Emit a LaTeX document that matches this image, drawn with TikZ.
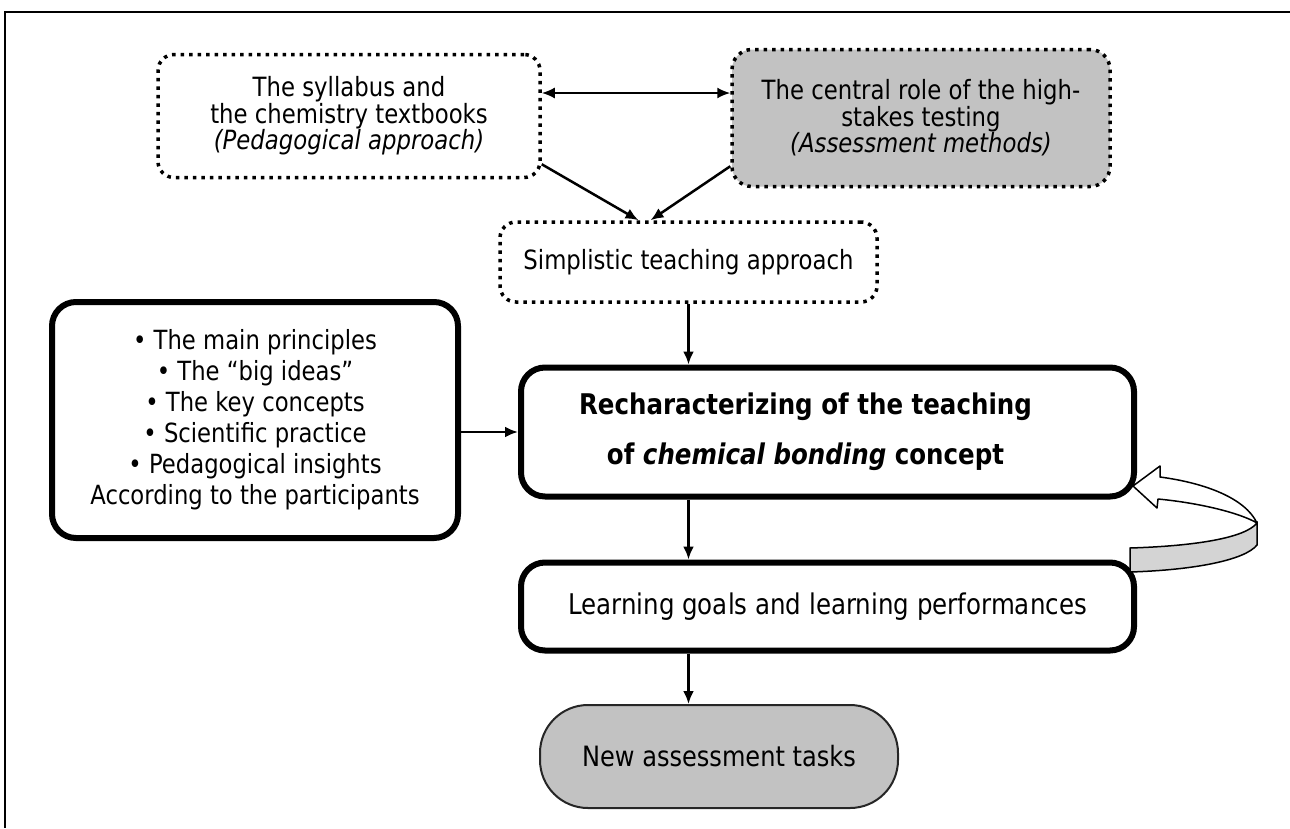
\documentclass[tikz,border=0pt]{standalone}
\usepackage{fontspec}
\setmainfont{DejaVu Sans}[FakeStretch=0.86]
\usetikzlibrary{arrows.meta,positioning,calc}
\definecolor{boxgray}{RGB}{194,194,194}
\definecolor{bandgray}{RGB}{212,212,212}
\tikzset{
    dotbox/.style = {rectangle,
                    rounded corners=16pt,
                    fill=white,
                    draw=black,
                    text=black,
                    line width=3.5pt,
                    dash pattern=on 3.5pt off 5pt,
                    inner sep=0pt,
                    align=center,
                    font=\fontsize{26.5}{24}\selectfont},
    thickbox/.style = {rectangle,
                    rounded corners=24pt,
                    fill=white,
                    draw=black,
                    text=black,
                    line width=6pt,
                    inner sep=0pt,
                    align=center,
                    font=\fontsize{26.4}{31}\selectfont},
    endbox/.style = {rectangle,
                    rounded corners=48pt,
                    fill=boxgray,
                    draw=black!85,
                    text=black,
                    line width=2pt,
                    inner sep=0pt,
                    font=\fontsize{28}{30}\selectfont},
    boldtext/.style = {align=center,
                    inner sep=0pt,
                    font=\bfseries\fontsize{28.5}{50}\selectfont},
    link/.style =   {line width=2.5pt, ->},
    >={Latex[length=13pt,width=11pt]},
    x=1pt, y=-1pt}
\begin{document}
\begin{tikzpicture}
    \useasboundingbox (0,0) rectangle (1290,828);
    % frame
    \draw[line width=2pt] (1290,12) -- (5,12) -- (5,828);
    % boxes
    \node[dotbox, minimum width=382, minimum height=123] (A) at (349,116)
        {The syllabus and\\the chemistry textbooks\\\textit{(Pedagogical approach)}};
    \node[dotbox, fill=boxgray, rounded corners=20pt, minimum width=378, minimum height=137] (B) at (921,118)
        {The central role of the high-\\stakes testing\\\textit{(Assessment methods)}};
    \node[dotbox, minimum width=377, minimum height=80] (C) at (688.5,262)
        {Simplistic teaching approach};
    \node[thickbox, minimum width=406, minimum height=236] (G) at (255,420)
        {• The main principles\\• The “big ideas”\\• The key concepts\\• Scientific practice\\• Pedagogical insights\\According to the participants};
    \node[thickbox, minimum width=613, minimum height=129] (D) at (827.5,432) {};
    \node[boldtext] (Dtext) at ([xshift=-22pt]D.center)
        {Recharacterizing of the teaching\\of \textit{chemical bonding} concept};
    \node[thickbox, font=\fontsize{28.5}{30}\selectfont, minimum width=613, minimum height=88] (E) [below=60pt of D]
        {Learning goals and learning performances};
    \node[endbox, minimum width=358, minimum height=103] (F) at (719,756.5)
        {New assessment tasks};
    % connectors
    \coordinate (axis) at (C.center);
    \coordinate (topL) at ([yshift=23pt]A.east);
    \draw[line width=2pt, <->] (topL) -- (topL -| B.west);
    \draw[link] ([yshift=15pt]A.south east) -- ([xshift=-50pt]C.north);
    \draw[link] ([yshift=22pt]B.south west) -- ([xshift=-38pt]C.north);
    \draw[link] (C.south -| axis) -- (D.north -| axis);
    \draw[link] (G.east |- D.west) -- (D.west);
    \draw[link] (D.south -| axis) -- (E.north -| axis);
    \draw[link] (E.south -| axis) -- (F.north -| axis);
    % ribbon arrow
    \draw[line width=1.5pt, fill=bandgray] (1130,548) .. controls (1195,546) and (1245,538) .. (1257,523)
        -- (1257,545) .. controls (1245,560) and (1195,570) .. (1130,572) -- cycle;
    \draw[line width=1.5pt, fill=white, line join=round] (1257,523) .. controls (1245,498) and (1205,483) .. (1160,477)
        -- (1160,466) -- (1133,486) -- (1157,508) -- (1158,499)
        .. controls (1200,503) and (1240,513) .. (1257,523) -- cycle;
\end{tikzpicture}
\end{document}
